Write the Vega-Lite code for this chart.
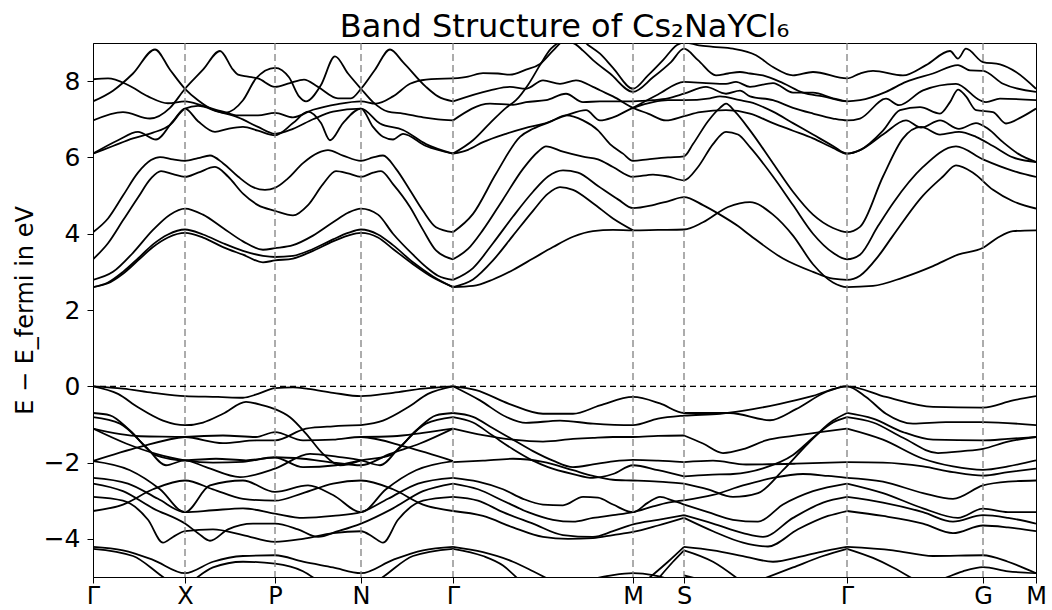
{
  "$schema": "https://vega.github.io/schema/vega-lite/v6.json",
  "width": 943,
  "height": 534,
  "autosize": {"type": "none"},
  "padding": {"left": 93, "top": 43, "right": 16, "bottom": 33},
  "title": {"text": "Band Structure of Cs₂NaYCl₆", "fontSize": 32, "fontWeight": "normal", "font": "DejaVu Sans", "color": "black", "offset": -2},
  "config": {
    "font": "DejaVu Sans",
    "view": {"stroke": "black", "strokeWidth": 1}
  },
  "datasets": {
    "sym": [{"k": 92}, {"k": 182}, {"k": 268}, {"k": 360}, {"k": 540}, {"k": 591}, {"k": 754}, {"k": 890}],
    "bands": [
      {"b":"C1","k":0,"e":2.6},{"b":"C1","k":15,"e":2.7},{"b":"C1","k":30,"e":2.95},{"b":"C1","k":45,"e":3.3},{"b":"C1","k":60,"e":3.65},{"b":"C1","k":75,"e":3.9},{"b":"C1","k":92,"e":4.02},{"b":"C1","k":110,"e":3.9},{"b":"C1","k":130,"e":3.65},{"b":"C1","k":150,"e":3.45},{"b":"C1","k":170,"e":3.25},{"b":"C1","k":182,"e":3.3},{"b":"C1","k":200,"e":3.35},{"b":"C1","k":220,"e":3.55},{"b":"C1","k":240,"e":3.8},{"b":"C1","k":255,"e":3.95},{"b":"C1","k":268,"e":4.02},{"b":"C1","k":285,"e":3.9},{"b":"C1","k":300,"e":3.6},{"b":"C1","k":320,"e":3.2},{"b":"C1","k":340,"e":2.85},{"b":"C1","k":360,"e":2.6},
      {"b":"C2","k":0,"e":2.6},{"b":"C2","k":15,"e":2.72},{"b":"C2","k":30,"e":3.0},{"b":"C2","k":45,"e":3.35},{"b":"C2","k":60,"e":3.72},{"b":"C2","k":75,"e":3.98},{"b":"C2","k":92,"e":4.11},{"b":"C2","k":110,"e":3.98},{"b":"C2","k":130,"e":3.75},{"b":"C2","k":150,"e":3.55},{"b":"C2","k":170,"e":3.42},{"b":"C2","k":182,"e":3.39},{"b":"C2","k":200,"e":3.42},{"b":"C2","k":220,"e":3.6},{"b":"C2","k":240,"e":3.85},{"b":"C2","k":255,"e":4.02},{"b":"C2","k":268,"e":4.11},{"b":"C2","k":285,"e":3.98},{"b":"C2","k":300,"e":3.7},{"b":"C2","k":320,"e":3.25},{"b":"C2","k":340,"e":2.88},{"b":"C2","k":360,"e":2.6},
      {"b":"C3","k":0,"e":2.79},{"b":"C3","k":20,"e":3.0},{"b":"C3","k":40,"e":3.5},{"b":"C3","k":60,"e":4.1},{"b":"C3","k":77,"e":4.5},{"b":"C3","k":92,"e":4.66},{"b":"C3","k":110,"e":4.5},{"b":"C3","k":130,"e":4.15},{"b":"C3","k":150,"e":3.8},{"b":"C3","k":170,"e":3.58},{"b":"C3","k":182,"e":3.62},{"b":"C3","k":200,"e":3.7},{"b":"C3","k":220,"e":3.95},{"b":"C3","k":240,"e":4.3},{"b":"C3","k":255,"e":4.55},{"b":"C3","k":268,"e":4.66},{"b":"C3","k":285,"e":4.5},{"b":"C3","k":300,"e":4.0},{"b":"C3","k":320,"e":3.45},{"b":"C3","k":333,"e":3.13},{"b":"C3","k":345,"e":2.9},{"b":"C3","k":360,"e":2.79},
      {"b":"C4","k":0,"e":3.33},{"b":"C4","k":15,"e":3.75},{"b":"C4","k":30,"e":4.35},{"b":"C4","k":45,"e":4.95},{"b":"C4","k":58,"e":5.45},{"b":"C4","k":68,"e":5.64},{"b":"C4","k":80,"e":5.56},{"b":"C4","k":92,"e":5.49},{"b":"C4","k":105,"e":5.6},{"b":"C4","k":122,"e":5.75},{"b":"C4","k":135,"e":5.5},{"b":"C4","k":150,"e":5.05},{"b":"C4","k":165,"e":4.75},{"b":"C4","k":182,"e":4.6},{"b":"C4","k":200,"e":4.48},{"b":"C4","k":215,"e":4.75},{"b":"C4","k":230,"e":5.3},{"b":"C4","k":243,"e":5.64},{"b":"C4","k":255,"e":5.58},{"b":"C4","k":268,"e":5.49},{"b":"C4","k":280,"e":5.6},{"b":"C4","k":288,"e":5.64},{"b":"C4","k":300,"e":5.3},{"b":"C4","k":317,"e":4.7},{"b":"C4","k":330,"e":4.1},{"b":"C4","k":343,"e":3.56},{"b":"C4","k":360,"e":3.33},
      {"b":"C5","k":0,"e":4.04},{"b":"C5","k":15,"e":4.4},{"b":"C5","k":30,"e":5.0},{"b":"C5","k":45,"e":5.6},{"b":"C5","k":58,"e":5.93},{"b":"C5","k":67,"e":6.01},{"b":"C5","k":80,"e":5.95},{"b":"C5","k":92,"e":5.91},{"b":"C5","k":105,"e":5.98},{"b":"C5","k":117,"e":6.05},{"b":"C5","k":130,"e":5.85},{"b":"C5","k":145,"e":5.5},{"b":"C5","k":160,"e":5.22},{"b":"C5","k":172,"e":5.15},{"b":"C5","k":182,"e":5.2},{"b":"C5","k":195,"e":5.45},{"b":"C5","k":210,"e":5.85},{"b":"C5","k":225,"e":6.12},{"b":"C5","k":235,"e":6.19},{"b":"C5","k":250,"e":6.05},{"b":"C5","k":268,"e":5.91},{"b":"C5","k":280,"e":6.0},{"b":"C5","k":290,"e":6.05},{"b":"C5","k":303,"e":5.7},{"b":"C5","k":317,"e":5.14},{"b":"C5","k":330,"e":4.6},{"b":"C5","k":343,"e":4.17},{"b":"C5","k":360,"e":4.04},
      {"b":"ga","k":0,"e":7.47},{"b":"ga","k":20,"e":7.75},{"b":"ga","k":40,"e":8.2},{"b":"ga","k":62,"e":8.83},{"b":"ga","k":77,"e":8.3},{"b":"ga","k":92,"e":7.8},{"b":"ga","k":105,"e":7.5},{"b":"ga","k":120,"e":7.25},{"b":"ga","k":132,"e":7.17},{"b":"ga","k":150,"e":7.5},{"b":"ga","k":163,"e":8.07},{"b":"ga","k":182,"e":8.35},{"b":"ga","k":196,"e":8.1},{"b":"ga","k":206,"e":7.6},{"b":"ga","k":213,"e":7.47},{"b":"ga","k":228,"e":7.9},{"b":"ga","k":242,"e":8.65},{"b":"ga","k":255,"e":8.2},{"b":"ga","k":268,"e":7.8},{"b":"ga","k":280,"e":7.45},{"b":"ga","k":295,"e":7.2},{"b":"ga","k":310,"e":7.15},{"b":"ga","k":330,"e":7.05},{"b":"ga","k":345,"e":7.0},{"b":"ga","k":360,"e":6.97},
      {"b":"gb","k":0,"e":6.97},{"b":"gb","k":30,"e":7.19},{"b":"gb","k":57,"e":7.02},{"b":"gb","k":77,"e":7.3},{"b":"gb","k":92,"e":7.8},{"b":"gb","k":110,"e":8.3},{"b":"gb","k":127,"e":8.79},{"b":"gb","k":140,"e":8.3},{"b":"gb","k":145,"e":8.17},{"b":"gb","k":155,"e":8.12},{"b":"gb","k":165,"e":8.07},{"b":"gb","k":182,"e":7.85},{"b":"gb","k":197,"e":7.95},{"b":"gb","k":211,"e":8.04},{"b":"gb","k":225,"e":7.85},{"b":"gb","k":245,"e":7.55},{"b":"gb","k":258,"e":7.55},{"b":"gb","k":268,"e":7.8},{"b":"gb","k":282,"e":8.3},{"b":"gb","k":297,"e":8.83},{"b":"gb","k":310,"e":8.5},{"b":"gb","k":333,"e":7.85},{"b":"gb","k":345,"e":7.6},{"b":"gb","k":360,"e":7.47},
      {"b":"gc","k":0,"e":8.05},{"b":"gc","k":15,"e":8.07},{"b":"gc","k":35,"e":7.9},{"b":"gc","k":55,"e":7.6},{"b":"gc","k":75,"e":7.42},{"b":"gc","k":92,"e":7.47},{"b":"gc","k":110,"e":7.35},{"b":"gc","k":130,"e":7.2},{"b":"gc","k":145,"e":7.1},{"b":"gc","k":165,"e":7.1},{"b":"gc","k":182,"e":7.17},{"b":"gc","k":200,"e":7.05},{"b":"gc","k":220,"e":7.25},{"b":"gc","k":245,"e":7.4},{"b":"gc","k":268,"e":7.47},{"b":"gc","k":283,"e":7.41},{"b":"gc","k":300,"e":7.6},{"b":"gc","k":317,"e":7.93},{"b":"gc","k":333,"e":8.04},{"b":"gc","k":360,"e":8.07},
      {"b":"gd","k":0,"e":6.1},{"b":"gd","k":25,"e":6.45},{"b":"gd","k":45,"e":6.67},{"b":"gd","k":63,"e":6.47},{"b":"gd","k":80,"e":6.95},{"b":"gd","k":92,"e":7.28},{"b":"gd","k":105,"e":6.95},{"b":"gd","k":122,"e":6.67},{"b":"gd","k":135,"e":6.75},{"b":"gd","k":150,"e":6.8},{"b":"gd","k":165,"e":6.7},{"b":"gd","k":182,"e":6.58},{"b":"gd","k":200,"e":6.9},{"b":"gd","k":215,"e":7.2},{"b":"gd","k":228,"e":6.9},{"b":"gd","k":237,"e":6.45},{"b":"gd","k":250,"e":6.9},{"b":"gd","k":268,"e":7.28},{"b":"gd","k":280,"e":6.8},{"b":"gd","k":290,"e":6.54},{"b":"gd","k":300,"e":6.47},{"b":"gd","k":310,"e":6.62},{"b":"gd","k":333,"e":6.3},{"b":"gd","k":360,"e":6.1},
      {"b":"ge","k":0,"e":6.1},{"b":"ge","k":20,"e":6.3},{"b":"ge","k":40,"e":6.5},{"b":"ge","k":60,"e":6.65},{"b":"ge","k":77,"e":6.85},{"b":"ge","k":92,"e":7.28},{"b":"ge","k":105,"e":7.35},{"b":"ge","k":125,"e":7.2},{"b":"ge","k":145,"e":7.05},{"b":"ge","k":165,"e":6.8},{"b":"ge","k":182,"e":6.62},{"b":"ge","k":200,"e":6.75},{"b":"ge","k":220,"e":7.0},{"b":"ge","k":240,"e":7.2},{"b":"ge","k":268,"e":7.28},{"b":"ge","k":287,"e":6.89},{"b":"ge","k":310,"e":6.72},{"b":"ge","k":333,"e":6.35},{"b":"ge","k":360,"e":6.1},
      {"b":"mA","k":360,"e":2.6},{"b":"mA","k":380,"e":2.63},{"b":"mA","k":400,"e":2.8},{"b":"mA","k":420,"e":3.05},{"b":"mA","k":440,"e":3.35},{"b":"mA","k":460,"e":3.65},{"b":"mA","k":480,"e":3.92},{"b":"mA","k":500,"e":4.07},{"b":"mA","k":520,"e":4.1},{"b":"mA","k":540,"e":4.09},{"b":"mA","k":565,"e":4.1},{"b":"mA","k":591,"e":4.11},{"b":"mA","k":610,"e":4.3},{"b":"mA","k":635,"e":4.7},{"b":"mA","k":657,"e":4.83},{"b":"mA","k":680,"e":4.5},{"b":"mA","k":700,"e":3.95},{"b":"mA","k":720,"e":3.2},{"b":"mA","k":740,"e":2.72},{"b":"mA","k":754,"e":2.6},{"b":"mA","k":780,"e":2.63},{"b":"mA","k":810,"e":2.85},{"b":"mA","k":840,"e":3.15},{"b":"mA","k":865,"e":3.45},{"b":"mA","k":890,"e":3.63},{"b":"mA","k":905,"e":3.9},{"b":"mA","k":920,"e":4.07},{"b":"mA","k":943,"e":4.09},
      {"b":"mB","k":360,"e":2.6},{"b":"mB","k":380,"e":2.8},{"b":"mB","k":400,"e":3.3},{"b":"mB","k":420,"e":3.95},{"b":"mB","k":440,"e":4.6},{"b":"mB","k":455,"e":5.05},{"b":"mB","k":467,"e":5.22},{"b":"mB","k":480,"e":5.15},{"b":"mB","k":500,"e":4.8},{"b":"mB","k":520,"e":4.4},{"b":"mB","k":540,"e":4.09},
      {"b":"mC","k":360,"e":2.79},{"b":"mC","k":380,"e":3.1},{"b":"mC","k":400,"e":3.75},{"b":"mC","k":420,"e":4.45},{"b":"mC","k":440,"e":5.1},{"b":"mC","k":455,"e":5.5},{"b":"mC","k":470,"e":5.66},{"b":"mC","k":485,"e":5.6},{"b":"mC","k":505,"e":5.25},{"b":"mC","k":525,"e":4.9},{"b":"mC","k":540,"e":4.67},{"b":"mC","k":560,"e":4.75},{"b":"mC","k":575,"e":4.85},{"b":"mC","k":591,"e":4.96},{"b":"mC","k":610,"e":4.75},{"b":"mC","k":627,"e":4.5},{"b":"mC","k":645,"e":4.2},{"b":"mC","k":657,"e":3.96},{"b":"mC","k":690,"e":3.35},{"b":"mC","k":720,"e":3.0},{"b":"mC","k":740,"e":2.82},{"b":"mC","k":754,"e":2.79},{"b":"mC","k":767,"e":2.9},{"b":"mC","k":785,"e":3.4},{"b":"mC","k":800,"e":3.95},{"b":"mC","k":830,"e":5.0},{"b":"mC","k":850,"e":5.5},{"b":"mC","k":863,"e":5.79},{"b":"mC","k":880,"e":5.6},{"b":"mC","k":900,"e":5.15},{"b":"mC","k":920,"e":4.85},{"b":"mC","k":943,"e":4.66},
      {"b":"mD","k":360,"e":3.33},{"b":"mD","k":375,"e":3.6},{"b":"mD","k":390,"e":4.1},{"b":"mD","k":410,"e":4.9},{"b":"mD","k":430,"e":5.7},{"b":"mD","k":445,"e":6.15},{"b":"mD","k":453,"e":6.29},{"b":"mD","k":470,"e":6.15},{"b":"mD","k":490,"e":6.02},{"b":"mD","k":505,"e":5.95},{"b":"mD","k":520,"e":5.75},{"b":"mD","k":540,"e":5.49},{"b":"mD","k":560,"e":5.55},{"b":"mD","k":575,"e":5.5},{"b":"mD","k":591,"e":5.4},{"b":"mD","k":605,"e":5.75},{"b":"mD","k":620,"e":6.35},{"b":"mD","k":633,"e":6.67},{"b":"mD","k":645,"e":6.6},{"b":"mD","k":657,"e":6.27},{"b":"mD","k":680,"e":5.5},{"b":"mD","k":700,"e":4.75},{"b":"mD","k":720,"e":4.0},{"b":"mD","k":740,"e":3.5},{"b":"mD","k":754,"e":3.33},{"b":"mD","k":767,"e":3.45},{"b":"mD","k":785,"e":4.2},{"b":"mD","k":800,"e":4.8},{"b":"mD","k":830,"e":5.75},{"b":"mD","k":863,"e":6.29},{"b":"mD","k":890,"e":5.95},{"b":"mD","k":920,"e":5.65},{"b":"mD","k":943,"e":5.49},
      {"b":"mE","k":360,"e":4.04},{"b":"mE","k":380,"e":4.52},{"b":"mE","k":403,"e":5.57},{"b":"mE","k":427,"e":6.54},{"b":"mE","k":440,"e":6.75},{"b":"mE","k":457,"e":6.93},{"b":"mE","k":473,"e":7.1},{"b":"mE","k":490,"e":6.97},{"b":"mE","k":505,"e":6.71},{"b":"mE","k":517,"e":6.35},{"b":"mE","k":530,"e":6.1},{"b":"mE","k":540,"e":5.91},{"b":"mE","k":555,"e":5.95},{"b":"mE","k":575,"e":6.0},{"b":"mE","k":591,"e":6.03},{"b":"mE","k":600,"e":6.35},{"b":"mE","k":615,"e":6.95},{"b":"mE","k":627,"e":7.3},{"b":"mE","k":633,"e":7.41},{"b":"mE","k":642,"e":7.2},{"b":"mE","k":657,"e":6.71},{"b":"mE","k":680,"e":5.85},{"b":"mE","k":700,"e":5.1},{"b":"mE","k":720,"e":4.5},{"b":"mE","k":740,"e":4.15},{"b":"mE","k":754,"e":4.04},{"b":"mE","k":767,"e":4.18},{"b":"mE","k":790,"e":5.5},{"b":"mE","k":810,"e":6.5},{"b":"mE","k":828,"e":6.8},{"b":"mE","k":847,"e":6.6},{"b":"mE","k":866,"e":6.67},{"b":"mE","k":883,"e":6.54},{"b":"mE","k":900,"e":6.3},{"b":"mE","k":920,"e":6.0},{"b":"mE","k":943,"e":5.88},
      {"b":"mF","k":360,"e":6.1},{"b":"mF","k":380,"e":6.45},{"b":"mF","k":397,"e":6.9},{"b":"mF","k":413,"e":7.3},{"b":"mF","k":423,"e":7.5},{"b":"mF","k":435,"e":7.9},{"b":"mF","k":447,"e":8.42},{"b":"mF","k":458,"e":8.85},{"b":"mF","k":470,"e":9.03},{"b":"mF","k":480,"e":9.0},{"b":"mF","k":490,"e":8.8},{"b":"mF","k":500,"e":8.55},{"b":"mF","k":517,"e":8.2},{"b":"mF","k":540,"e":7.72},{"b":"mF","k":560,"e":8.1},{"b":"mF","k":578,"e":8.5},{"b":"mF","k":591,"e":8.85},{"b":"mF","k":605,"e":8.55},{"b":"mF","k":623,"e":8.15},{"b":"mF","k":635,"e":8.2},{"b":"mF","k":647,"e":8.24},{"b":"mF","k":657,"e":8.2},{"b":"mF","k":670,"e":8.15},{"b":"mF","k":690,"e":7.95},{"b":"mF","k":710,"e":7.7},{"b":"mF","k":730,"e":7.6},{"b":"mF","k":754,"e":7.47},{"b":"mF","k":767,"e":7.5},{"b":"mF","k":793,"e":7.72},{"b":"mF","k":813,"e":7.98},{"b":"mF","k":840,"e":8.2},{"b":"mF","k":865,"e":8.42},{"b":"mF","k":877,"e":8.28},{"b":"mF","k":890,"e":8.27},{"b":"mF","k":910,"e":7.93},{"b":"mF","k":943,"e":7.72},
      {"b":"mG","k":360,"e":8.07},{"b":"mG","k":375,"e":8.12},{"b":"mG","k":390,"e":8.21},{"b":"mG","k":405,"e":8.2},{"b":"mG","k":417,"e":8.17},{"b":"mG","k":433,"e":8.3},{"b":"mG","k":447,"e":8.45},{"b":"mG","k":460,"e":8.8},{"b":"mG","k":470,"e":9.05},{"b":"mG","k":485,"e":9.15},{"b":"mG","k":495,"e":8.95},{"b":"mG","k":507,"e":8.72},{"b":"mG","k":520,"e":8.35},{"b":"mG","k":540,"e":7.8},{"b":"mG","k":555,"e":8.15},{"b":"mG","k":570,"e":8.55},{"b":"mG","k":584,"e":8.95},{"b":"mG","k":591,"e":9.02},{"b":"mG","k":606,"e":8.94},{"b":"mG","k":620,"e":8.9},{"b":"mG","k":640,"e":8.85},{"b":"mG","k":663,"e":8.68},{"b":"mG","k":680,"e":8.37},{"b":"mG","k":700,"e":8.15},{"b":"mG","k":720,"e":8.24},{"b":"mG","k":754,"e":8.07},{"b":"mG","k":767,"e":8.2},{"b":"mG","k":780,"e":8.27},{"b":"mG","k":810,"e":8.15},{"b":"mG","k":833,"e":8.42},{"b":"mG","k":857,"e":8.79},{"b":"mG","k":865,"e":8.59},{"b":"mG","k":873,"e":8.85},{"b":"mG","k":890,"e":8.5},{"b":"mG","k":907,"e":8.44},{"b":"mG","k":923,"e":8.24},{"b":"mG","k":943,"e":7.8},
      {"b":"mH","k":360,"e":7.47},{"b":"mH","k":397,"e":7.76},{"b":"mH","k":417,"e":7.85},{"b":"mH","k":433,"e":7.8},{"b":"mH","k":450,"e":8.02},{"b":"mH","k":467,"e":7.93},{"b":"mH","k":483,"e":8.02},{"b":"mH","k":500,"e":7.85},{"b":"mH","k":507,"e":7.76},{"b":"mH","k":520,"e":7.6},{"b":"mH","k":540,"e":7.3},{"b":"mH","k":555,"e":7.15},{"b":"mH","k":573,"e":6.97},{"b":"mH","k":591,"e":7.08},{"b":"mH","k":607,"e":7.19},{"b":"mH","k":633,"e":7.24},{"b":"mH","k":657,"e":7.15},{"b":"mH","k":680,"e":6.9},{"b":"mH","k":700,"e":6.7},{"b":"mH","k":720,"e":6.5},{"b":"mH","k":740,"e":6.25},{"b":"mH","k":754,"e":6.1},{"b":"mH","k":767,"e":6.19},{"b":"mH","k":790,"e":6.7},{"b":"mH","k":807,"e":7.24},{"b":"mH","k":827,"e":7.32},{"b":"mH","k":847,"e":7.15},{"b":"mH","k":857,"e":7.45},{"b":"mH","k":865,"e":7.78},{"b":"mH","k":873,"e":7.6},{"b":"mH","k":883,"e":7.24},{"b":"mH","k":900,"e":7.19},{"b":"mH","k":913,"e":6.89},{"b":"mH","k":928,"e":7.05},{"b":"mH","k":943,"e":7.28},
      {"b":"mI","k":360,"e":6.97},{"b":"mI","k":397,"e":7.41},{"b":"mI","k":420,"e":7.38},{"b":"mI","k":433,"e":7.45},{"b":"mI","k":453,"e":7.5},{"b":"mI","k":473,"e":7.67},{"b":"mI","k":490,"e":7.45},{"b":"mI","k":507,"e":7.47},{"b":"mI","k":540,"e":7.47},{"b":"mI","k":560,"e":7.5},{"b":"mI","k":575,"e":7.55},{"b":"mI","k":591,"e":7.67},{"b":"mI","k":613,"e":7.85},{"b":"mI","k":633,"e":7.67},{"b":"mI","k":647,"e":7.75},{"b":"mI","k":657,"e":7.6},{"b":"mI","k":680,"e":7.5},{"b":"mI","k":700,"e":7.3},{"b":"mI","k":720,"e":7.15},{"b":"mI","k":740,"e":7.02},{"b":"mI","k":754,"e":6.97},{"b":"mI","k":767,"e":7.02},{"b":"mI","k":793,"e":7.54},{"b":"mI","k":806,"e":7.37},{"b":"mI","k":830,"e":7.76},{"b":"mI","k":863,"e":7.93},{"b":"mI","k":887,"e":7.5},{"b":"mI","k":893,"e":7.45},{"b":"mI","k":907,"e":7.54},{"b":"mI","k":943,"e":7.5},
      {"b":"mJ","k":360,"e":6.1},{"b":"mJ","k":375,"e":6.2},{"b":"mJ","k":390,"e":6.4},{"b":"mJ","k":413,"e":6.62},{"b":"mJ","k":432,"e":6.77},{"b":"mJ","k":450,"e":6.88},{"b":"mJ","k":473,"e":7.1},{"b":"mJ","k":493,"e":7.24},{"b":"mJ","k":507,"e":6.97},{"b":"mJ","k":520,"e":7.05},{"b":"mJ","k":540,"e":7.3},{"b":"mJ","k":560,"e":7.45},{"b":"mJ","k":575,"e":7.5},{"b":"mJ","k":591,"e":7.5},{"b":"mJ","k":617,"e":7.55},{"b":"mJ","k":627,"e":7.6},{"b":"mJ","k":647,"e":7.5},{"b":"mJ","k":657,"e":7.45},{"b":"mJ","k":680,"e":7.2},{"b":"mJ","k":700,"e":6.9},{"b":"mJ","k":720,"e":6.6},{"b":"mJ","k":740,"e":6.3},{"b":"mJ","k":754,"e":6.1},{"b":"mJ","k":767,"e":6.19},{"b":"mJ","k":790,"e":6.6},{"b":"mJ","k":813,"e":6.97},{"b":"mJ","k":828,"e":6.78},{"b":"mJ","k":847,"e":6.97},{"b":"mJ","k":866,"e":6.75},{"b":"mJ","k":883,"e":6.9},{"b":"mJ","k":895,"e":6.75},{"b":"mJ","k":910,"e":6.4},{"b":"mJ","k":925,"e":6.1},{"b":"mJ","k":943,"e":5.88},
      {"b":"mK","k":540,"e":7.3},{"b":"mK","k":565,"e":7.65},{"b":"mK","k":591,"e":7.98},{"b":"mK","k":613,"e":7.95},{"b":"mK","k":633,"e":7.93},{"b":"mK","k":643,"e":7.98},{"b":"mK","k":657,"e":7.85},{"b":"mK","k":680,"e":7.95},{"b":"mK","k":700,"e":7.7},{"b":"mK","k":720,"e":7.7},{"b":"mK","k":740,"e":7.55},{"b":"mK","k":754,"e":7.47},
      {"b":"VT","k":0,"e":0},{"b":"VT","k":30,"e":-0.06},{"b":"VT","k":60,"e":-0.17},{"b":"VT","k":92,"e":-0.26},{"b":"VT","k":125,"e":-0.28},{"b":"VT","k":150,"e":-0.3},{"b":"VT","k":165,"e":-0.2},{"b":"VT","k":182,"e":-0.05},{"b":"VT","k":200,"e":-0.03},{"b":"VT","k":215,"e":-0.07},{"b":"VT","k":240,"e":-0.17},{"b":"VT","k":268,"e":-0.26},{"b":"VT","k":300,"e":-0.17},{"b":"VT","k":330,"e":-0.06},{"b":"VT","k":360,"e":0},
      {"b":"V2","k":0,"e":0},{"b":"V2","k":25,"e":-0.2},{"b":"V2","k":45,"e":-0.55},{"b":"V2","k":70,"e":-0.9},{"b":"V2","k":92,"e":-1.02},{"b":"V2","k":110,"e":-0.95},{"b":"V2","k":130,"e":-0.72},{"b":"V2","k":153,"e":-0.41},{"b":"V2","k":170,"e":-0.5},{"b":"V2","k":182,"e":-0.6},{"b":"V2","k":197,"e":-0.81},{"b":"V2","k":213,"e":-1.24},{"b":"V2","k":230,"e":-1.77},{"b":"V2","k":247,"e":-2.07},{"b":"V2","k":268,"e":-1.94},
      {"b":"V2b","k":268,"e":-1.02},{"b":"V2b","k":290,"e":-0.9},{"b":"V2b","k":315,"e":-0.55},{"b":"V2b","k":335,"e":-0.2},{"b":"V2b","k":360,"e":0},
      {"b":"V3","k":0,"e":-0.7},{"b":"V3","k":17,"e":-0.76},{"b":"V3","k":37,"e":-1.16},{"b":"V3","k":63,"e":-1.81},{"b":"V3","k":92,"e":-1.94},{"b":"V3","k":123,"e":-1.9},{"b":"V3","k":153,"e":-1.94},{"b":"V3","k":182,"e":-1.87},{"b":"V3","k":210,"e":-2.12},{"b":"V3","k":243,"e":-2.07},{"b":"V3","k":268,"e":-1.94},{"b":"V3","k":297,"e":-1.81},{"b":"V3","k":323,"e":-1.16},{"b":"V3","k":343,"e":-0.76},{"b":"V3","k":360,"e":-0.7},
      {"b":"V4","k":0,"e":-0.81},{"b":"V4","k":27,"e":-0.98},{"b":"V4","k":53,"e":-1.59},{"b":"V4","k":73,"e":-2.07},{"b":"V4","k":92,"e":-1.94},{"b":"V4","k":113,"e":-2.12},{"b":"V4","k":147,"e":-2.38},{"b":"V4","k":182,"e":-2.16},{"b":"V4","k":217,"e":-1.77},{"b":"V4","k":245,"e":-1.85},{"b":"V4","k":268,"e":-1.94},{"b":"V4","k":287,"e":-2.07},{"b":"V4","k":307,"e":-1.59},{"b":"V4","k":333,"e":-0.98},{"b":"V4","k":360,"e":-0.81},
      {"b":"V5","k":0,"e":-1.11},{"b":"V5","k":47,"e":-1.31},{"b":"V5","k":92,"e":-1.33},{"b":"V5","k":130,"e":-1.49},{"b":"V5","k":163,"e":-1.42},{"b":"V5","k":182,"e":-1.42},{"b":"V5","k":213,"e":-1.11},{"b":"V5","k":240,"e":-1.05},{"b":"V5","k":268,"e":-1.02},
      {"b":"V5m","k":268,"e":-1.33},{"b":"V5m","k":300,"e":-1.31},{"b":"V5m","k":330,"e":-1.22},{"b":"V5m","k":360,"e":-1.11},
      {"b":"V6","k":0,"e":-1.11},{"b":"V6","k":33,"e":-1.5},{"b":"V6","k":63,"e":-1.77},{"b":"V6","k":92,"e":-1.94},{"b":"V6","k":120,"e":-2.0},{"b":"V6","k":150,"e":-1.98},{"b":"V6","k":182,"e":-1.86},{"b":"V6","k":210,"e":-1.9},{"b":"V6","k":240,"e":-2.0},{"b":"V6","k":268,"e":-2.07},{"b":"V6","k":297,"e":-1.77},{"b":"V6","k":327,"e":-1.5},{"b":"V6","k":360,"e":-1.11},
      {"b":"V7","k":0,"e":-1.96},{"b":"V7","k":47,"e":-1.59},{"b":"V7","k":92,"e":-1.33},{"b":"V7","k":130,"e":-1.29},{"b":"V7","k":163,"e":-1.33},{"b":"V7","k":182,"e":-1.2},{"b":"V7","k":210,"e":-1.42},{"b":"V7","k":240,"e":-1.4},{"b":"V7","k":268,"e":-1.33},{"b":"V7","k":313,"e":-1.59},{"b":"V7","k":360,"e":-1.96},
      {"b":"V8","k":0,"e":-1.96},{"b":"V8","k":37,"e":-2.2},{"b":"V8","k":67,"e":-2.7},{"b":"V8","k":92,"e":-3.3},{"b":"V8","k":117,"e":-2.6},{"b":"V8","k":150,"e":-2.47},{"b":"V8","k":182,"e":-2.77},{"b":"V8","k":215,"e":-2.6},{"b":"V8","k":240,"e":-2.85},{"b":"V8","k":268,"e":-3.3},{"b":"V8","k":293,"e":-2.7},{"b":"V8","k":323,"e":-2.2},{"b":"V8","k":360,"e":-1.96},
      {"b":"V9","k":0,"e":-3.27},{"b":"V9","k":30,"e":-3.1},{"b":"V9","k":60,"e":-2.7},{"b":"V9","k":92,"e":-2.47},{"b":"V9","k":120,"e":-2.7},{"b":"V9","k":150,"e":-2.95},{"b":"V9","k":182,"e":-3.0},{"b":"V9","k":210,"e":-2.8},{"b":"V9","k":240,"e":-2.55},{"b":"V9","k":268,"e":-2.47},{"b":"V9","k":300,"e":-2.7},{"b":"V9","k":330,"e":-3.1},{"b":"V9","k":360,"e":-3.27},
      {"b":"V10","k":0,"e":-2.4},{"b":"V10","k":35,"e":-2.55},{"b":"V10","k":65,"e":-2.95},{"b":"V10","k":92,"e":-3.3},{"b":"V10","k":120,"e":-3.25},{"b":"V10","k":150,"e":-3.2},{"b":"V10","k":182,"e":-3.34},{"b":"V10","k":210,"e":-3.45},{"b":"V10","k":240,"e":-3.4},{"b":"V10","k":268,"e":-3.3},{"b":"V10","k":295,"e":-2.95},{"b":"V10","k":325,"e":-2.55},{"b":"V10","k":360,"e":-2.4},
      {"b":"V11","k":0,"e":-2.55},{"b":"V11","k":30,"e":-2.75},{"b":"V11","k":60,"e":-3.2},{"b":"V11","k":92,"e":-3.6},{"b":"V11","k":105,"e":-3.85},{"b":"V11","k":117,"e":-4.05},{"b":"V11","k":135,"e":-3.75},{"b":"V11","k":160,"e":-3.6},{"b":"V11","k":182,"e":-3.6},{"b":"V11","k":205,"e":-3.75},{"b":"V11","k":225,"e":-3.95},{"b":"V11","k":245,"e":-3.8},{"b":"V11","k":268,"e":-3.6},{"b":"V11","k":300,"e":-3.2},{"b":"V11","k":330,"e":-2.75},{"b":"V11","k":360,"e":-2.55},
      {"b":"V12","k":0,"e":-2.9},{"b":"V12","k":30,"e":-3.0},{"b":"V12","k":55,"e":-3.5},{"b":"V12","k":70,"e":-4.1},{"b":"V12","k":80,"e":-3.95},{"b":"V12","k":92,"e":-3.8},{"b":"V12","k":120,"e":-3.75},{"b":"V12","k":150,"e":-3.9},{"b":"V12","k":182,"e":-4.08},{"b":"V12","k":210,"e":-4.0},{"b":"V12","k":240,"e":-3.85},{"b":"V12","k":268,"e":-3.8},{"b":"V12","k":280,"e":-3.95},{"b":"V12","k":290,"e":-4.1},{"b":"V12","k":305,"e":-3.5},{"b":"V12","k":330,"e":-3.0},{"b":"V12","k":360,"e":-2.9},
      {"b":"V13","k":0,"e":-4.21},{"b":"V13","k":30,"e":-4.3},{"b":"V13","k":60,"e":-4.55},{"b":"V13","k":92,"e":-4.9},{"b":"V13","k":120,"e":-4.6},{"b":"V13","k":150,"e":-4.45},{"b":"V13","k":182,"e":-4.43},{"b":"V13","k":210,"e":-4.6},{"b":"V13","k":240,"e":-4.75},{"b":"V13","k":268,"e":-4.9},{"b":"V13","k":300,"e":-4.55},{"b":"V13","k":330,"e":-4.3},{"b":"V13","k":360,"e":-4.21},
      {"b":"V14","k":0,"e":-4.26},{"b":"V14","k":40,"e":-4.45},{"b":"V14","k":65,"e":-4.9},{"b":"V14","k":75,"e":-5.1},
      {"b":"V14m","k":285,"e":-5.1},{"b":"V14m","k":295,"e":-4.9},{"b":"V14m","k":320,"e":-4.45},{"b":"V14m","k":360,"e":-4.26},
      {"b":"V15","k":100,"e":-5.1},{"b":"V15","k":120,"e":-4.75},{"b":"V15","k":150,"e":-4.6},{"b":"V15","k":182,"e":-4.65},{"b":"V15","k":210,"e":-4.85},{"b":"V15","k":225,"e":-5.1},
      {"b":"W1","k":360,"e":0},{"b":"W1","k":383,"e":-0.1},{"b":"W1","k":416,"e":-0.46},{"b":"W1","k":450,"e":-0.72},{"b":"W1","k":480,"e":-0.72},{"b":"W1","k":507,"e":-0.5},{"b":"W1","k":540,"e":-0.28},{"b":"W1","k":567,"e":-0.45},{"b":"W1","k":591,"e":-0.7},{"b":"W1","k":637,"e":-0.7},{"b":"W1","k":677,"e":-0.89},{"b":"W1","k":703,"e":-0.6},{"b":"W1","k":733,"e":-0.15},{"b":"W1","k":754,"e":0},{"b":"W1","k":793,"e":-0.28},{"b":"W1","k":840,"e":-0.54},{"b":"W1","k":890,"e":-0.56},{"b":"W1","k":920,"e":-0.37},{"b":"W1","k":943,"e":-0.26},
      {"b":"W2","k":360,"e":0},{"b":"W2","k":387,"e":-0.37},{"b":"W2","k":413,"e":-0.8},{"b":"W2","k":433,"e":-0.96},{"b":"W2","k":467,"e":-0.9},{"b":"W2","k":500,"e":-0.98},{"b":"W2","k":540,"e":-1.02},{"b":"W2","k":565,"e":-0.85},{"b":"W2","k":591,"e":-0.77},{"b":"W2","k":627,"e":-0.72},{"b":"W2","k":660,"e":-0.6},{"b":"W2","k":687,"e":-0.46},{"b":"W2","k":720,"e":-0.25},{"b":"W2","k":754,"e":0},{"b":"W2","k":773,"e":-0.28},{"b":"W2","k":793,"e":-0.72},{"b":"W2","k":820,"e":-0.98},{"b":"W2","k":853,"e":-0.94},{"b":"W2","k":890,"e":-0.94},{"b":"W2","k":943,"e":-1.02},
      {"b":"W3","k":360,"e":-0.7},{"b":"W3","k":380,"e":-0.8},{"b":"W3","k":400,"e":-1.1},{"b":"W3","k":420,"e":-1.4},{"b":"W3","k":440,"e":-1.7},{"b":"W3","k":460,"e":-1.95},{"b":"W3","k":480,"e":-2.12},{"b":"W3","k":500,"e":-2.05},{"b":"W3","k":520,"e":-1.97},{"b":"W3","k":540,"e":-1.93},{"b":"W3","k":565,"e":-1.95},{"b":"W3","k":591,"e":-1.99},
      {"b":"W4","k":360,"e":-0.81},{"b":"W4","k":380,"e":-0.95},{"b":"W4","k":400,"e":-1.3},{"b":"W4","k":420,"e":-1.65},{"b":"W4","k":440,"e":-1.95},{"b":"W4","k":455,"e":-2.12},{"b":"W4","k":480,"e":-2.3},{"b":"W4","k":500,"e":-2.4},{"b":"W4","k":520,"e":-2.3},{"b":"W4","k":540,"e":-2.07},{"b":"W4","k":565,"e":-2.2},{"b":"W4","k":591,"e":-2.36},
      {"b":"W5","k":360,"e":-1.11},{"b":"W5","k":390,"e":-1.28},{"b":"W5","k":420,"e":-1.4},{"b":"W5","k":450,"e":-1.45},{"b":"W5","k":480,"e":-1.38},{"b":"W5","k":500,"e":-1.35},{"b":"W5","k":520,"e":-1.33},{"b":"W5","k":540,"e":-1.33},{"b":"W5","k":565,"e":-1.3},{"b":"W5","k":591,"e":-1.29},
      {"b":"W6","k":360,"e":-1.99},{"b":"W6","k":390,"e":-1.95},{"b":"W6","k":420,"e":-1.9},{"b":"W6","k":450,"e":-1.98},{"b":"W6","k":480,"e":-2.2},{"b":"W6","k":500,"e":-2.35},{"b":"W6","k":520,"e":-2.45},{"b":"W6","k":540,"e":-2.47},{"b":"W6","k":565,"e":-2.5},{"b":"W6","k":591,"e":-2.55},
      {"b":"W7","k":360,"e":-2.4},{"b":"W7","k":385,"e":-2.5},{"b":"W7","k":410,"e":-2.7},{"b":"W7","k":430,"e":-2.95},{"b":"W7","k":450,"e":-3.1},{"b":"W7","k":470,"e":-3.12},{"b":"W7","k":490,"e":-2.9},{"b":"W7","k":505,"e":-2.92},{"b":"W7","k":520,"e":-3.1},{"b":"W7","k":540,"e":-3.3},{"b":"W7","k":555,"e":-3.05},{"b":"W7","k":567,"e":-2.9},{"b":"W7","k":580,"e":-3.0},{"b":"W7","k":591,"e":-3.1},
      {"b":"W8","k":360,"e":-2.55},{"b":"W8","k":385,"e":-2.7},{"b":"W8","k":410,"e":-3.0},{"b":"W8","k":435,"e":-3.3},{"b":"W8","k":460,"e":-3.5},{"b":"W8","k":480,"e":-3.55},{"b":"W8","k":500,"e":-3.45},{"b":"W8","k":520,"e":-3.38},{"b":"W8","k":540,"e":-3.3},{"b":"W8","k":560,"e":-3.15},{"b":"W8","k":575,"e":-3.05},{"b":"W8","k":591,"e":-2.99},
      {"b":"W9","k":360,"e":-2.9},{"b":"W9","k":385,"e":-3.0},{"b":"W9","k":410,"e":-3.3},{"b":"W9","k":440,"e":-3.6},{"b":"W9","k":470,"e":-3.9},{"b":"W9","k":500,"e":-3.95},{"b":"W9","k":520,"e":-3.8},{"b":"W9","k":540,"e":-3.62},{"b":"W9","k":565,"e":-3.5},{"b":"W9","k":591,"e":-3.38},
      {"b":"W10","k":360,"e":-3.27},{"b":"W10","k":390,"e":-3.4},{"b":"W10","k":420,"e":-3.7},{"b":"W10","k":450,"e":-3.95},{"b":"W10","k":475,"e":-4.0},{"b":"W10","k":500,"e":-3.98},{"b":"W10","k":520,"e":-3.9},{"b":"W10","k":540,"e":-3.82},{"b":"W10","k":565,"e":-3.65},{"b":"W10","k":591,"e":-3.45},
      {"b":"W11","k":360,"e":-4.21},{"b":"W11","k":390,"e":-4.35},{"b":"W11","k":420,"e":-4.6},{"b":"W11","k":440,"e":-4.85},{"b":"W11","k":455,"e":-5.05},
      {"b":"W12","k":360,"e":-4.26},{"b":"W12","k":390,"e":-4.45},{"b":"W12","k":410,"e":-4.7},{"b":"W12","k":425,"e":-5.05},
      {"b":"W13","k":500,"e":-5.05},{"b":"W13","k":520,"e":-4.95},{"b":"W13","k":540,"e":-4.9},{"b":"W13","k":560,"e":-4.95},{"b":"W13","k":575,"e":-5.05},
      {"b":"W14","k":555,"e":-5.05},{"b":"W14","k":575,"e":-4.6},{"b":"W14","k":591,"e":-4.21},
      {"b":"W15","k":565,"e":-5.05},{"b":"W15","k":580,"e":-4.6},{"b":"W15","k":591,"e":-4.3},
      {"b":"Wa","k":591,"e":-1.29},{"b":"Wa","k":610,"e":-1.5},{"b":"Wa","k":630,"e":-1.75},{"b":"Wa","k":650,"e":-1.65},{"b":"Wa","k":673,"e":-1.42},{"b":"Wa","k":700,"e":-1.3},{"b":"Wa","k":727,"e":-1.2},{"b":"Wa","k":754,"e":-1.11},
      {"b":"Wb","k":591,"e":-1.99},{"b":"Wb","k":620,"e":-1.95},{"b":"Wb","k":653,"e":-2.05},{"b":"Wb","k":703,"e":-2.03},{"b":"Wb","k":754,"e":-1.99},
      {"b":"Wc","k":591,"e":-2.36},{"b":"Wc","k":615,"e":-2.32},{"b":"Wc","k":640,"e":-2.3},{"b":"Wc","k":670,"e":-2.15},{"b":"Wc","k":700,"e":-1.8},{"b":"Wc","k":720,"e":-1.35},{"b":"Wc","k":740,"e":-0.95},{"b":"Wc","k":754,"e":-0.81},
      {"b":"Wd","k":591,"e":-2.55},{"b":"Wd","k":615,"e":-2.7},{"b":"Wd","k":640,"e":-2.9},{"b":"Wd","k":665,"e":-2.8},{"b":"Wd","k":690,"e":-2.2},{"b":"Wd","k":715,"e":-1.5},{"b":"Wd","k":740,"e":-0.9},{"b":"Wd","k":754,"e":-0.7},
      {"b":"We","k":591,"e":-2.99},{"b":"We","k":620,"e":-2.85},{"b":"We","k":650,"e":-2.6},{"b":"We","k":680,"e":-2.4},{"b":"We","k":710,"e":-2.3},{"b":"We","k":735,"e":-2.35},{"b":"We","k":754,"e":-2.4},
      {"b":"Wf","k":591,"e":-3.1},{"b":"Wf","k":615,"e":-3.3},{"b":"Wf","k":640,"e":-3.5},{"b":"Wf","k":665,"e":-3.55},{"b":"Wf","k":690,"e":-3.1},{"b":"Wf","k":720,"e":-2.75},{"b":"Wf","k":754,"e":-2.55},
      {"b":"Wg","k":591,"e":-3.38},{"b":"Wg","k":620,"e":-3.6},{"b":"Wg","k":650,"e":-3.85},{"b":"Wg","k":670,"e":-3.95},{"b":"Wg","k":700,"e":-3.45},{"b":"Wg","k":730,"e":-3.05},{"b":"Wg","k":754,"e":-2.9},
      {"b":"Wh","k":591,"e":-3.45},{"b":"Wh","k":620,"e":-3.8},{"b":"Wh","k":650,"e":-4.1},{"b":"Wh","k":675,"e":-4.2},{"b":"Wh","k":705,"e":-3.75},{"b":"Wh","k":735,"e":-3.4},{"b":"Wh","k":754,"e":-3.27},
      {"b":"Wi","k":591,"e":-4.21},{"b":"Wi","k":620,"e":-4.3},{"b":"Wi","k":650,"e":-4.45},{"b":"Wi","k":680,"e":-4.6},{"b":"Wi","k":710,"e":-4.45},{"b":"Wi","k":735,"e":-4.3},{"b":"Wi","k":754,"e":-4.21},
      {"b":"Wj","k":591,"e":-4.3},{"b":"Wj","k":620,"e":-4.6},{"b":"Wj","k":645,"e":-5.05},
      {"b":"Wk","k":670,"e":-5.05},{"b":"Wk","k":700,"e":-4.75},{"b":"Wk","k":730,"e":-4.45},{"b":"Wk","k":754,"e":-4.26},
      {"b":"Wl","k":591,"e":-4.96},{"b":"Wl","k":605,"e":-5.05},
      {"b":"G3","k":754,"e":-0.7},{"b":"G3","k":780,"e":-0.85},{"b":"G3","k":810,"e":-1.2},{"b":"G3","k":840,"e":-1.4},{"b":"G3","k":890,"e":-1.42},{"b":"G3","k":915,"e":-1.38},{"b":"G3","k":943,"e":-1.33},
      {"b":"G4","k":754,"e":-0.81},{"b":"G4","k":780,"e":-0.95},{"b":"G4","k":810,"e":-1.35},{"b":"G4","k":845,"e":-1.75},{"b":"G4","k":870,"e":-1.7},{"b":"G4","k":890,"e":-1.64},{"b":"G4","k":915,"e":-1.45},{"b":"G4","k":943,"e":-1.33},
      {"b":"G5","k":754,"e":-1.11},{"b":"G5","k":790,"e":-1.4},{"b":"G5","k":830,"e":-1.9},{"b":"G5","k":860,"e":-2.1},{"b":"G5","k":890,"e":-2.19},{"b":"G5","k":915,"e":-2.1},{"b":"G5","k":943,"e":-1.94},
      {"b":"G6","k":754,"e":-1.99},{"b":"G6","k":790,"e":-2.0},{"b":"G6","k":830,"e":-2.1},{"b":"G6","k":860,"e":-2.25},{"b":"G6","k":890,"e":-2.34},{"b":"G6","k":915,"e":-2.25},{"b":"G6","k":943,"e":-2.16},
      {"b":"G7","k":754,"e":-2.4},{"b":"G7","k":790,"e":-2.5},{"b":"G7","k":830,"e":-2.8},{"b":"G7","k":860,"e":-2.95},{"b":"G7","k":890,"e":-2.6},{"b":"G7","k":915,"e":-2.5},{"b":"G7","k":943,"e":-2.47},
      {"b":"G8","k":754,"e":-2.55},{"b":"G8","k":790,"e":-2.8},{"b":"G8","k":830,"e":-3.2},{"b":"G8","k":865,"e":-3.45},{"b":"G8","k":890,"e":-3.21},{"b":"G8","k":915,"e":-3.3},{"b":"G8","k":943,"e":-3.3},
      {"b":"G9","k":754,"e":-2.9},{"b":"G9","k":790,"e":-3.05},{"b":"G9","k":830,"e":-3.3},{"b":"G9","k":860,"e":-3.55},{"b":"G9","k":890,"e":-3.38},{"b":"G9","k":915,"e":-3.45},{"b":"G9","k":943,"e":-3.6},
      {"b":"G10","k":754,"e":-3.27},{"b":"G10","k":790,"e":-3.4},{"b":"G10","k":830,"e":-3.6},{"b":"G10","k":860,"e":-3.85},{"b":"G10","k":890,"e":-3.65},{"b":"G10","k":915,"e":-3.7},{"b":"G10","k":943,"e":-3.8},
      {"b":"G11","k":754,"e":-4.21},{"b":"G11","k":800,"e":-4.3},{"b":"G11","k":840,"e":-4.45},{"b":"G11","k":890,"e":-4.43},{"b":"G11","k":915,"e":-4.6},{"b":"G11","k":943,"e":-4.9},
      {"b":"G12","k":754,"e":-4.26},{"b":"G12","k":780,"e":-4.5},{"b":"G12","k":800,"e":-4.75},{"b":"G12","k":820,"e":-5.05},
      {"b":"G13","k":850,"e":-5.05},{"b":"G13","k":870,"e":-4.85},{"b":"G13","k":890,"e":-4.74},{"b":"G13","k":915,"e":-4.85},{"b":"G13","k":943,"e":-4.9}
    ]
  },
  "layer": [
    {
      "data": {"name": "bands"},
      "mark": {"type": "line", "color": "black", "strokeWidth": 1.8, "interpolate": "monotone", "clip": true},
      "encoding": {
        "x": {
          "field": "k", "type": "quantitative",
          "scale": {"domain": [0, 943], "nice": false, "zero": false},
          "axis": {
            "values": [0, 92, 182, 268, 360, 540, 591, 754, 890, 943],
            "labelExpr": "datum.value == 92 ? 'X' : datum.value == 182 ? 'P' : datum.value == 268 ? 'N' : (datum.value == 540 || datum.value == 943) ? 'M' : datum.value == 591 ? 'S' : datum.value == 890 ? 'G' : 'Γ'",
            "title": null, "grid": false, "tickSize": 6, "tickColor": "black", "domainColor": "black",
            "labelFontSize": 24, "labelColor": "black", "labelPadding": 1, "labelFlush": false, "labelOverlap": false, "labelBound": false
          }
        },
        "y": {
          "field": "e", "type": "quantitative",
          "scale": {"domain": [-5, 9], "nice": false, "zero": false},
          "axis": {
            "values": [-4, -2, 0, 2, 4, 6, 8],
            "title": "E − E_fermi in eV", "titleFontSize": 24, "titleFontWeight": "normal", "titleColor": "black", "titlePadding": 6,
            "grid": false, "tickSize": 6, "tickColor": "black", "domainColor": "black",
            "labelFontSize": 25, "labelColor": "black", "labelPadding": 7, "labelFlush": false
          }
        },
        "detail": {"field": "b", "type": "nominal"}
      }
    },
    {
      "data": {"name": "sym"},
      "mark": {"type": "rule", "stroke": "#808080", "strokeWidth": 1.3, "strokeDash": [7, 4]},
      "encoding": {
        "x": {"field": "k", "type": "quantitative", "scale": {"domain": [0, 943], "nice": false, "zero": false}}
      }
    },
    {
      "data": {"values": [{"e": 0}]},
      "mark": {"type": "rule", "stroke": "black", "strokeWidth": 1.3, "strokeDash": [6, 4]},
      "encoding": {
        "y": {"field": "e", "type": "quantitative", "scale": {"domain": [-5, 9], "nice": false, "zero": false}}
      }
    }
  ]
}
